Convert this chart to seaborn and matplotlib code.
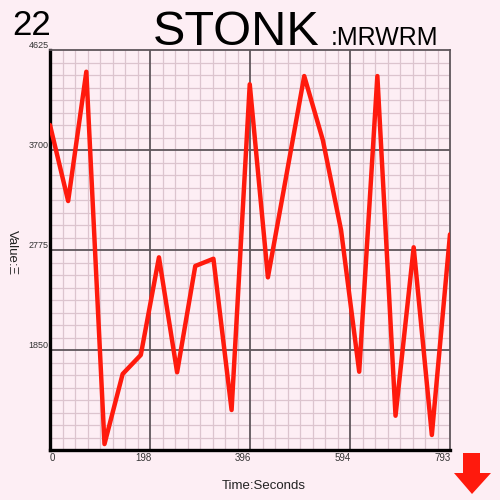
import numpy as np
import pandas as pd
import seaborn as sns
import matplotlib.pyplot as plt
from matplotlib.patches import Polygon
from matplotlib.ticker import AutoMinorLocator
import matplotlib.transforms as mtransforms

# values
seconds = [0, 36, 72, 108, 144, 180, 216, 252, 288, 324, 360, 396,
           432, 468, 504, 541, 577, 613, 649, 685, 721, 757, 793]
values = [3931, 3228, 4424, 980, 1628, 1804, 2707, 1644, 2627, 2694, 1295, 4308,
          2522, 3450, 4384, 3790, 2960, 1649, 4384, 1242, 2800, 1064, 2920]

x_ticks = [0, 198.25, 396.5, 594.75, 793]
x_tick_labels = ['0', '198', '396', '594', '793']
y_ticks = [925, 1850, 2775, 3700, 4625]
y_tick_labels = ['', '1850', '2775', '3700', '4625']

bg = '#fdeef4'
major_col = '#5e565b'
minor_col = '#dcc4ce'

sns.set_theme(style='white')
plt.rcParams['font.family'] = ['Liberation Sans', 'DejaVu Sans']

fig = plt.figure(figsize=(5, 5), dpi=100, facecolor=bg)
ax = fig.add_axes([0.1, 0.1, 0.8, 0.8], facecolor=bg)

df = pd.DataFrame({'t': seconds, 'v': values})
sns.lineplot(data=df, x='t', y='v', ax=ax, color='#ff1a0d', linewidth=3.2, zorder=5)

ax.set_xlim(0, 793)
ax.set_ylim(925, 4625)
ax.set_xticks(x_ticks, x_tick_labels)
ax.set_yticks(y_ticks, y_tick_labels)
ax.xaxis.set_minor_locator(AutoMinorLocator(8))
ax.yaxis.set_minor_locator(AutoMinorLocator(8))
# minor grid from the axis, major lines on top of it so they stay solid
ax.grid(which='minor', color=minor_col, linewidth=0.9, zorder=0)
ax.set_axisbelow(True)
for xt in x_ticks[1:-1]:
    ax.axvline(xt, color=major_col, linewidth=1.3, zorder=2)
for yt in y_ticks[1:-1]:
    ax.axhline(yt, color=major_col, linewidth=1.3, zorder=2)

ax.tick_params(which='both', length=0)
ax.tick_params(axis='x', labelsize=7, pad=2, colors='#333333')
ax.tick_params(axis='y', labelsize=6.5, pad=1, colors='#333333')
for lbl in ax.get_yticklabels():
    lbl.set_verticalalignment('bottom')
for i, lbl in enumerate(ax.get_xticklabels()):
    dx = 2 / 72 if i == 0 else -5 / 72
    lbl.set_transform(lbl.get_transform() + mtransforms.ScaledTranslation(dx, 0, fig.dpi_scale_trans))

for side in ['top', 'right']:
    ax.spines[side].set_color(major_col)
    ax.spines[side].set_linewidth(1.3)
for side in ['left', 'bottom']:
    ax.spines[side].set_color('black')
    ax.spines[side].set_linewidth(2.4)

ax.set_xlabel('')
ax.set_ylabel('')

fig.text(264 / 500, 1 - 486 / 500, 'Time:Seconds', ha='center', va='center', fontsize=9.5, color='#222222')
fig.text(12 / 500, 1 - 253 / 500, 'Value:Ξ', ha='center', va='center', rotation=-90, fontsize=9.5, color='#222222')
fig.text(236 / 500, 1 - 45 / 500, 'STONK', ha='center', va='baseline', fontsize=35, color='black')
fig.text(331 / 500, 1 - 45 / 500, ':MRWRM', ha='left', va='baseline', fontsize=18, color='black')
fig.text(12 / 500, 1 - 35 / 500, '22', ha='left', va='baseline', fontsize=25, color='black')

# red down arrow in the corner
arrow_px = [(463, 453), (480, 453), (480, 473), (491, 473), (472, 494), (454, 473), (463, 473)]
arrow = Polygon([(x / 500, 1 - y / 500) for x, y in arrow_px], closed=True,
                transform=fig.transFigure, facecolor='#ff1a0d', edgecolor='none')
fig.patches.append(arrow)

fig.savefig('out.png', dpi=100, facecolor=bg)
